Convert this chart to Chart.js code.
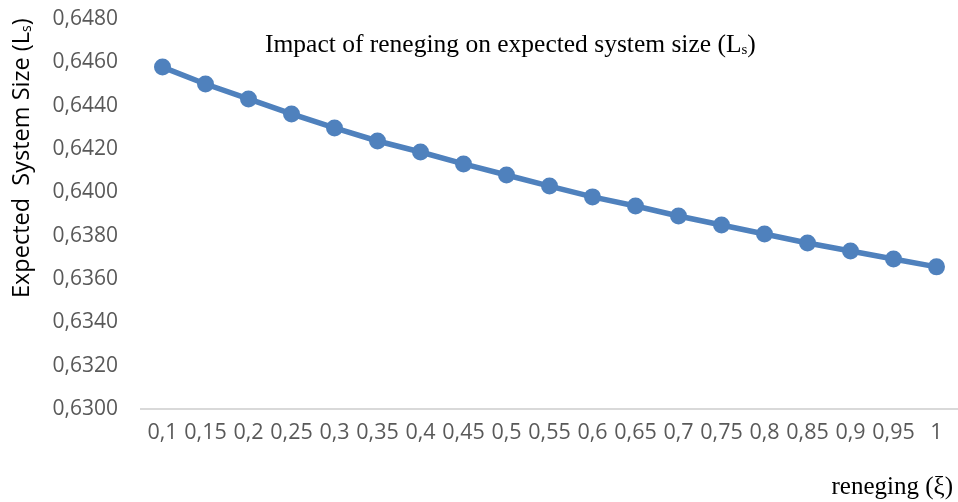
<!DOCTYPE html>
<html lang="en">
<head>
    <meta charset="UTF-8">
    <title>Impact of reneging on expected system size</title>
    <style>
        body {
            margin: 0;
            background-color: #fff;
        }
        #chart {
            display: block;
        }
    </style>
    <script src="https://cdn.jsdelivr.net/npm/chart.js"></script>
</head>
<body>
    <canvas id="chart" width="958" height="502"></canvas>

    <script>
        // reneging rate (ξ)
        const categories = ['0,1', '0,15', '0,2', '0,25', '0,3', '0,35', '0,4', '0,45', '0,5', '0,55',
            '0,6', '0,65', '0,7', '0,75', '0,8', '0,85', '0,9', '0,95', '1'];
        // expected system size Ls
        const lsValues = [0.64578, 0.64500, 0.64431, 0.64362, 0.64297, 0.64237, 0.64186, 0.64131, 0.64080, 0.64029,
            0.63979, 0.63937, 0.63891, 0.63849, 0.63808, 0.63766, 0.63729, 0.63692, 0.63656];
        const yMin = 0.6300;
        const yMax = 0.6480;
        const yStep = 0.0020;

        const lineColor = '#4f81bd';
        const tickColor = '#595959';

        // text with a small "s" subscript, drawn left to right from x
        function drawSub(ctx, before, sub, after, x, y, font, subFont) {
            ctx.font = font;
            ctx.fillText(before, x, y);
            x += ctx.measureText(before).width;
            ctx.font = subFont;
            ctx.fillText(sub, x, y + 5);
            x += ctx.measureText(sub).width;
            ctx.font = font;
            ctx.fillText(after, x, y);
        }

        const labelsPlugin = {
            id: 'labels',
            afterDraw(chart) {
                const ctx = chart.ctx;
                ctx.save();
                ctx.fillStyle = '#000';
                ctx.textBaseline = 'middle';
                ctx.textAlign = 'left';

                // title inside the plot
                drawSub(ctx, 'Impact of reneging on expected system size (L', 's', ')',
                    265, 45, '25.5px "Liberation Serif"', '15px "Liberation Serif"');

                // x axis title
                ctx.font = '25px "Liberation Serif"';
                ctx.textAlign = 'right';
                ctx.fillText('reneging (ξ)', 953, 487);

                // y axis title
                ctx.translate(22, 298);
                ctx.rotate(-Math.PI / 2);
                ctx.textAlign = 'left';
                drawSub(ctx, 'Expected  System Size (L', 's', ')', 0, 0,
                    '23.5px "Open Sans"', '14px "Open Sans"');
                ctx.restore();
            }
        };

        const ctx = document.getElementById('chart').getContext('2d');
        const chart = new Chart(ctx, {
            type: 'line',
            data: {
                labels: categories,
                datasets: [{
                    label: 'Ls',
                    data: lsValues,
                    borderColor: lineColor,
                    backgroundColor: lineColor,
                    borderWidth: 5.5,
                    pointRadius: 8.5,
                    pointHoverRadius: 8.5,
                    pointBackgroundColor: lineColor,
                    pointBorderWidth: 0,
                    tension: 0,
                    clip: false
                }]
            },
            options: {
                responsive: false,
                animation: false,
                layout: {
                    autoPadding: false,
                    padding: { top: 19, right: 0, bottom: 0, left: 0 }
                },
                plugins: {
                    legend: { display: false },
                    title: { display: false },
                    tooltip: { enabled: false }
                },
                scales: {
                    x: {
                        offset: true,
                        grid: { display: false, drawTicks: false },
                        border: { display: true, color: '#d9d9d9', width: 2 },
                        ticks: {
                            color: tickColor,
                            font: { family: 'Open Sans', size: 21.5 },
                            padding: 11,
                            autoSkip: false,
                            maxRotation: 0,
                            minRotation: 0
                        },
                        afterFit(scale) {
                            scale.height = 93;
                            scale.paddingLeft = 0;
                            scale.paddingRight = 0;
                        }
                    },
                    y: {
                        min: yMin,
                        max: yMax,
                        grid: { display: false, drawTicks: false },
                        border: { display: false },
                        ticks: {
                            stepSize: yStep,
                            color: tickColor,
                            font: { family: 'Open Sans', size: 21 },
                            padding: 23,
                            callback: v => v.toFixed(4).replace('.', ',')
                        },
                        afterFit(scale) {
                            scale.width = 141;
                            scale.paddingTop = 0;
                            scale.paddingBottom = 0;
                        }
                    }
                }
            },
            plugins: [labelsPlugin]
        });
    </script>
</body>
</html>
